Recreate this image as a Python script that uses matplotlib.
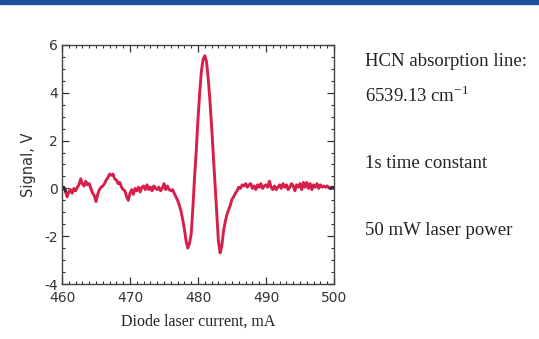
import numpy as np
import matplotlib.pyplot as plt
from matplotlib.ticker import MultipleLocator
from matplotlib.patches import Rectangle

plt.rcParams["axes.unicode_minus"] = False

# diode laser current grid, mA (0.25 mA steps)
current = np.arange(460.0, 500.001, 0.25)

# lock-in signal, V
signal = [
    0.00, 0.05, -0.10, -0.35, -0.15, -0.05, -0.20, 0.00,
    -0.10, 0.05, 0.15, 0.40, 0.20, 0.10, 0.30, 0.15,
    0.20, 0.00, -0.20, -0.30, -0.55, -0.25, -0.05, 0.05,
    0.10, 0.20, 0.35, 0.45, 0.60, 0.55, 0.60, 0.40,
    0.35, 0.20, 0.25, 0.05, -0.05, -0.10, -0.35, -0.50,
    -0.20, -0.05, -0.25, 0.00, -0.10, 0.05, -0.15, 0.05,
    0.10, -0.05, 0.15, -0.05, 0.05, -0.10, 0.10, 0.00,
    -0.05, 0.05, -0.10, 0.00, 0.20, -0.05, 0.10, -0.05,
    -0.10, -0.05, -0.20, -0.35, -0.50, -0.70, -0.95, -1.30,
    -1.70, -2.20, -2.50, -2.30, -1.90, -0.80, 0.50, 1.60,
    2.90, 4.00, 4.90, 5.40, 5.55, 5.30, 4.60, 3.70,
    2.60, 1.40, 0.20, -1.00, -2.20, -2.70, -2.40, -1.80,
    -1.40, -1.10, -0.90, -0.70, -0.45, -0.35, -0.20, -0.10,
    0.05, 0.00, 0.15, 0.10, 0.20, 0.05, 0.15, 0.20,
    0.00, 0.10, -0.05, 0.15, 0.05, 0.20, 0.00, 0.10,
    0.15, 0.05, 0.30, 0.05, -0.05, 0.10, -0.05, 0.05,
    0.15, 0.00, 0.20, 0.05, 0.15, -0.05, 0.05, 0.20,
    0.10, -0.10, 0.15, 0.05, 0.20, -0.05, 0.25, 0.05,
    0.25, 0.00, 0.20, -0.05, 0.15, 0.05, 0.20, 0.00,
    0.15, 0.05, 0.10, 0.05, 0.10, 0.05, 0.00, 0.05,
    0.00,
]

notes = ["HCN absorption line:", r"6539.13 cm$^{\mathregular{-1}}$",
         "1s time constant", "50 mW laser power"]
note_y = [0.820, 0.718, 0.519, 0.320]

fig = plt.figure(figsize=(5.39, 3.39), dpi=100)
fig.patch.set_facecolor("white")

# thin blue banner along the top edge
fig.add_artist(Rectangle((0, 1 - 3.5 / 339), 1, 3.5 / 339, transform=fig.transFigure,
                         color="#1d4f9c", zorder=0))

ax = fig.add_axes([62 / 539, 55 / 339, 272 / 539, 239 / 339])
ax.plot(current, signal, color="#d81f4b", lw=2.1, solid_joinstyle="round")
ax.plot(current[:3], signal[:3], color="#3a2a2a", lw=2.1)
ax.plot(current[-3:], signal[-3:], color="#3a2a2a", lw=2.1)

ax.set_xlim(460, 500)
ax.set_ylim(-4, 6)
ax.xaxis.set_major_locator(MultipleLocator(10))
ax.xaxis.set_minor_locator(MultipleLocator(1))
ax.yaxis.set_major_locator(MultipleLocator(2))
ax.yaxis.set_minor_locator(MultipleLocator(0.5))
ax.tick_params(which="both", direction="in", top=True, right=True,
               colors="#333333", labelcolor="#333333")
ax.tick_params(which="major", length=5, width=0.9, labelsize=10)
ax.tick_params(axis="x", which="major", pad=5)
ax.tick_params(axis="y", which="major", pad=3)
ax.tick_params(which="minor", length=2.5, width=0.8)
for s in ax.spines.values():
    s.set_color("#444444")
    s.set_linewidth(1.0)

ax.set_xlabel("Diode laser current, mA", family="Liberation Serif", fontsize=11.5,
              color="#222222", labelpad=6)
ax.set_ylabel("Signal, V", family="DejaVu Sans", fontsize=10.5,
              color="#333333", labelpad=6)

for t, y in zip(notes, note_y):
    fig.text(365 / 539, y, t, family="Liberation Serif", fontsize=13.5,
             color="#222222", va="center", ha="left")

fig.savefig("out.png", dpi=100)
